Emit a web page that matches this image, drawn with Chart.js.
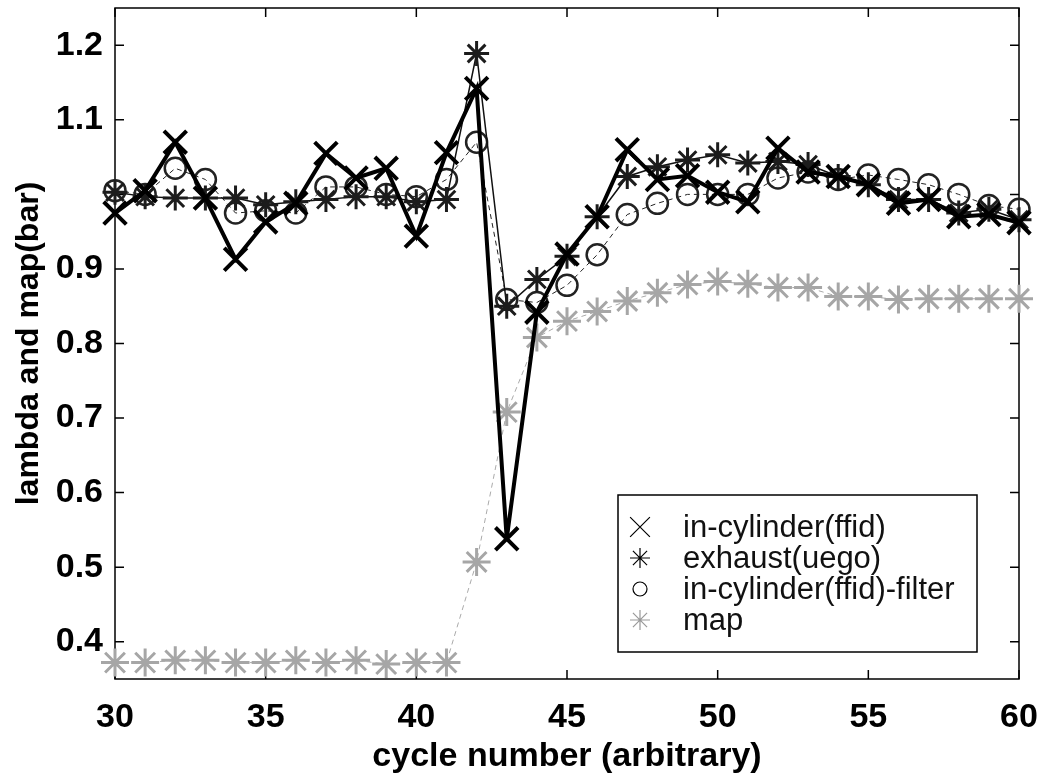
<!DOCTYPE html>
<html>
<head>
<meta charset="utf-8">
<script src="https://cdn.jsdelivr.net/npm/chart.js@4.4.0/dist/chart.umd.min.js"></script>
<style>
html,body{margin:0;padding:0;background:#fff}
#wrap{width:1042px;height:777px}
</style>
</head>
<body>
<div id="wrap"><canvas id="c" width="1042" height="777"></canvas></div>
<script>
// data
const cycles=[30,31,32,33,34,35,36,37,38,39,40,41,42,43,44,45,46,47,48,49,50,51,52,53,54,55,56,57,58,59,60];
const ffid=[0.975,1.005,1.07,0.995,0.913,0.963,0.988,1.055,1.022,1.035,0.944,1.056,1.142,0.538,0.842,0.92,0.97,1.06,1.02,1.025,1.003,0.99,1.062,1.03,1.024,1.013,0.988,0.993,0.97,0.973,0.962];
const uego=[1.003,0.997,0.995,0.995,0.995,0.986,0.99,0.993,0.997,0.997,0.99,0.993,1.189,0.85,0.886,0.917,0.97,1.024,1.037,1.046,1.053,1.042,1.044,1.04,1.024,1.013,0.993,0.993,0.975,0.98,0.966];
const ffidFilter=[1.005,1.0,1.035,1.02,0.975,0.978,0.975,1.01,1.01,1.0,0.997,1.02,1.07,0.859,0.855,0.878,0.919,0.973,0.988,1.0,1.0,1.0,1.022,1.03,1.02,1.026,1.02,1.013,1.0,0.985,0.98];
const mapBar=[0.372,0.372,0.375,0.375,0.372,0.372,0.375,0.372,0.375,0.37,0.372,0.372,0.507,0.708,0.808,0.83,0.843,0.857,0.868,0.879,0.883,0.88,0.875,0.875,0.863,0.863,0.859,0.86,0.86,0.86,0.86];
const xTicks=[30,35,40,45,50,55,60];
const yTicks=[0.4,0.5,0.6,0.7,0.8,0.9,1.0,1.1,1.2];
const seriesNames=["in-cylinder(ffid)","exhaust(uego)","in-cylinder(ffid)-filter","map"];

const FONT='"Liberation Sans", Arial, sans-serif';
const pts=arr=>arr.map((v,i)=>({x:cycles[i],y:v}));

function drawMark(ctx,style,x,y,r,color,lw){
  ctx.save();
  ctx.strokeStyle=color;ctx.lineWidth=lw;ctx.beginPath();
  if(style==="crossRot"||style==="star"){
    const d=r*0.707;
    ctx.moveTo(x-d,y-d);ctx.lineTo(x+d,y+d);
    ctx.moveTo(x-d,y+d);ctx.lineTo(x+d,y-d);
  }
  if(style==="star"){
    ctx.moveTo(x-r,y);ctx.lineTo(x+r,y);
    ctx.moveTo(x,y-r);ctx.lineTo(x,y+r);
  }
  if(style==="circle") ctx.arc(x,y,r,0,Math.PI*2);
  ctx.stroke();ctx.restore();
}

// box round the plot, inward ticks on all four sides
const frame={
  id:"frame",
  beforeDatasetsDraw(chart){
    const {ctx,chartArea:a,scales:{x,y}}=chart;
    ctx.save();
    ctx.strokeStyle="#000";ctx.lineWidth=1.5;
    ctx.strokeRect(a.left,a.top,a.right-a.left,a.bottom-a.top);
    ctx.beginPath();
    x.ticks.forEach(t=>{
      const px=x.getPixelForValue(t.value);
      ctx.moveTo(px,a.bottom);ctx.lineTo(px,a.bottom-9);
      ctx.moveTo(px,a.top);ctx.lineTo(px,a.top+9);
    });
    y.ticks.forEach(t=>{
      const py=y.getPixelForValue(t.value);
      ctx.moveTo(a.left,py);ctx.lineTo(a.left+9,py);
      ctx.moveTo(a.right,py);ctx.lineTo(a.right-9,py);
    });
    ctx.stroke();ctx.restore();
  }
};

// legend box inside the plot, lower right
const legendBox={
  id:"legendBox",
  afterDraw(chart){
    const ctx=chart.ctx;
    const left=618,top=495,right=977,bottom=652;
    ctx.save();
    ctx.fillStyle="#fff";ctx.fillRect(left,top,right-left,bottom-top);
    ctx.strokeStyle="#000";ctx.lineWidth=1.5;ctx.strokeRect(left,top,right-left,bottom-top);
    const rows=[527,558,589,620];
    const marks=[["crossRot",14,"#000"],["star",10,"#000"],["circle",7,"#000"],["star",10,"#999"]];
    ctx.font="31px "+FONT;ctx.fillStyle="#111";ctx.textBaseline="alphabetic";
    seriesNames.forEach((n,i)=>{
      drawMark(ctx,marks[i][0],640,rows[i],marks[i][1],marks[i][2],1.2);
      ctx.fillText(n,683,rows[i]+10);
    });
    ctx.restore();
  }
};

new Chart(document.getElementById("c"),{
  type:"line",
  data:{datasets:[
    {label:seriesNames[0],data:pts(ffid),borderColor:"#000",borderWidth:4,
     pointStyle:"crossRot",pointRadius:16,pointBorderWidth:4,pointBorderColor:"#000",pointBackgroundColor:"transparent"},
    {label:seriesNames[1],data:pts(uego),borderColor:"#111",borderWidth:1.5,
     pointStyle:"star",pointRadius:12.5,pointBorderWidth:3,pointBorderColor:"#1c1c1c",pointBackgroundColor:"transparent"},
    {label:seriesNames[2],data:pts(ffidFilter),borderColor:"#222",borderWidth:1,borderDash:[5,4],
     pointStyle:"circle",pointRadius:10.5,pointBorderWidth:2.5,pointBorderColor:"#222",pointBackgroundColor:"transparent"},
    {label:seriesNames[3],data:pts(mapBar),borderColor:"#aaa",borderWidth:1,borderDash:[5,4],
     pointStyle:"star",pointRadius:14,pointBorderWidth:3,pointBorderColor:"#a6a6a6",pointBackgroundColor:"transparent"}
  ]},
  options:{
    responsive:false,animation:false,devicePixelRatio:1,
    layout:{autoPadding:false,padding:{left:0,right:23,top:8,bottom:0}},
    datasets:{line:{tension:0,clip:false}},
    elements:{point:{hoverRadius:0}},
    plugins:{legend:{display:false},tooltip:{enabled:false}},
    scales:{
      x:{type:"linear",min:30,max:60,
        afterBuildTicks:s=>{s.ticks=xTicks.map(v=>({value:v}));},
        afterFit:s=>{s.height=98;s.paddingLeft=0;s.paddingRight=0;},
        grid:{display:false,drawTicks:false},border:{display:false},
        ticks:{color:"#000",padding:18,maxRotation:0,font:{family:FONT,size:34,weight:"bold"}},
        title:{display:true,text:"cycle number (arbitrary)",color:"#000",padding:{top:0,bottom:0},
          font:{family:FONT,size:34,weight:"bold"}}},
      y:{type:"linear",min:0.35,max:1.25,
        afterBuildTicks:s=>{s.ticks=yTicks.map(v=>({value:v}));},
        afterFit:s=>{s.width=115;s.paddingTop=0;s.paddingBottom=0;},
        grid:{display:false,drawTicks:false},border:{display:false},
        ticks:{color:"#000",padding:12,font:{family:FONT,size:34,weight:"bold"},
          callback:v=>Math.abs(v-1)<1e-9?"":v.toFixed(1)},
        title:{display:true,text:"lambda and map(bar)",color:"#000",padding:{top:10,bottom:0},
          font:{family:FONT,size:32,weight:"bold"}}}
    }
  },
  plugins:[frame,legendBox]
});
</script>
</body>
</html>
